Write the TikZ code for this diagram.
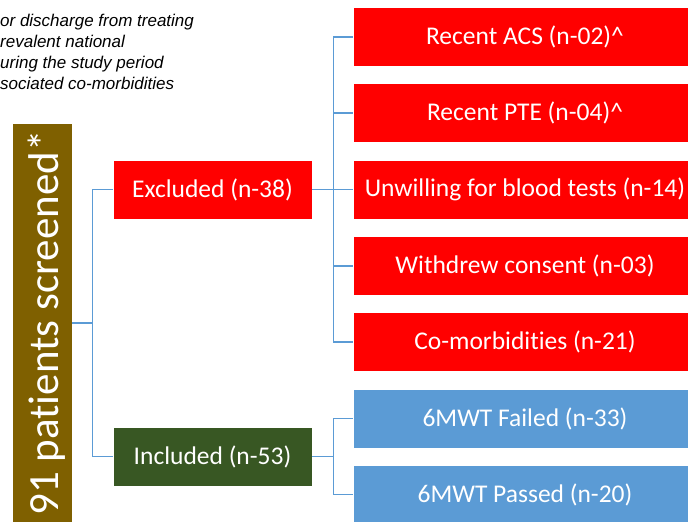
\documentclass[tikz,border=0pt]{standalone}
\usepackage{fontspec}
\setmainfont{Carlito}[Ligatures={NoCommon,NoContextual}]
\newfontfamily\notefont{Liberation Sans}
\definecolor{exred}{HTML}{FF0000}
\definecolor{inblue}{HTML}{5B9BD5}
\definecolor{ingreen}{HTML}{385723}
\definecolor{scrbrown}{HTML}{7F6000}
\definecolor{linkblue}{HTML}{5B9BD5}

\begin{document}
\begin{tikzpicture}[x=1pt, y=-1pt,
  box/.style={draw=white, line width=0.5pt, text=white, inner sep=0pt,
    minimum height=59pt, font=\fontsize{25.5}{30}\selectfont},
  small/.style={box, minimum width=199pt},
  wide/.style={box, minimum width=344pt},
  link/.style={draw=linkblue, line width=1.2pt},
  note/.style={anchor=base west, inner sep=0pt,
    font=\notefont\itshape\fontsize{17}{21}\selectfont}]

\useasboundingbox (0,0) rectangle (688,522);
\clip (0,0) rectangle (688,522);

% note, top left
\foreach \t [count=\i] in {or discharge from treating, revalent national,
  uring the study period, sociated co-morbidities}
  \node[note] (note\i) at (0,6.3+20.7*\i) {\t};

% first level
\node[box, fill=scrbrown, minimum width=60pt, minimum height=400pt] (screened) at (42,323)
  {\rotatebox{90}{\raisebox{-4.5pt}[\height][\depth]{\fontsize{43}{50}\selectfont 91 patients screened*}}};
\node[small, fill=exred] (excl) at (212.5,189.5) {Excluded (n-38)};
\node[small, fill=ingreen] (incl) at (212.5,456.5) {Included (n-53)};

% second level
\node[wide, fill=exred] (acs) at (525,37) {Recent ACS (n-02)\textasciicircum};
\node[wide, fill=exred] (pte) at (525,113) {Recent PTE (n-04)\textasciicircum};
\node[wide, fill=exred] (unw) at (525,189.5) {Unwilling for blood tests (n-14)};
\node[wide, fill=exred] (wdr) at (525,266) {Withdrew consent (n-03)};
\node[wide, fill=exred] (com) at (525,342) {Co-morbidities (n-21)};
\node[wide, fill=inblue] (fail) at (525,418.5) {6MWT Failed (n-33)};
\node[wide, fill=inblue] (pass) at (525,494.5) {6MWT Passed (n-20)};

% connectors
\draw[link] (screened.east) -- ++(20,0) coordinate (split) |- (excl.west);
\draw[link] (split) |- (incl.west);
\draw[link] (excl.east) -- ++(21,0) coordinate (exsplit);
\foreach \n in {acs,pte,unw,wdr,com}
  \draw[link] (exsplit) |- (\n.west);
\draw[link] (incl.east) -- ++(21,0) coordinate (insplit);
\foreach \n in {fail,pass}
  \draw[link] (insplit) |- (\n.west);
\end{tikzpicture}
\end{document}
